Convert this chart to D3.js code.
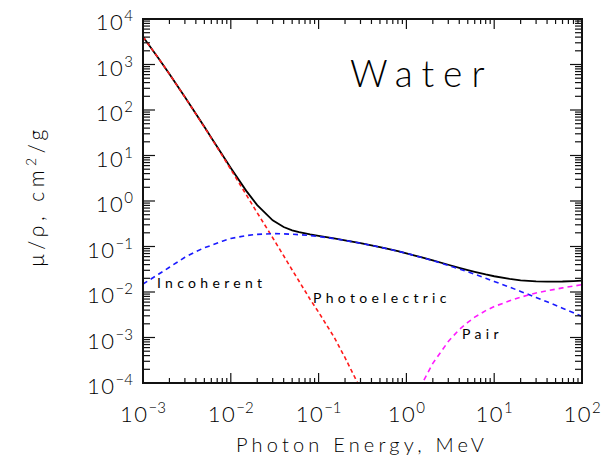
<!DOCTYPE html>
<html>
<head>
<meta charset="utf-8">
<script src="https://cdn.jsdelivr.net/npm/d3@7"></script>
<style>
  body { margin: 0; background: #fff; }
  svg text { font-family: "Lato", "DejaVu Sans", sans-serif; font-weight: 300; fill: #000; }
  svg text.curve-label { font-weight: 400; }
</style>
</head>
<body>
<div id="chart"></div>
<script>
const width = 605, height = 459;
const margin = {left: 143, right: 23, top: 19, bottom: 76};

// photon energies, MeV
const energy = [0.001, 0.0015, 0.002, 0.003, 0.004, 0.005, 0.006, 0.008,
    0.01, 0.015, 0.02, 0.03, 0.04, 0.05, 0.06, 0.08,
    0.1, 0.15, 0.2, 0.3, 0.4, 0.5, 0.6, 0.8,
    1, 1.25, 1.5, 2, 3, 4, 5, 6, 8,
    10, 15, 20, 30, 40, 50, 60, 80, 100];

// total attenuation, cm2/g
const total = [4078, 1376, 617, 193, 82.8, 42.6, 24.6, 10.4,
    5.33, 1.67, 0.810, 0.376, 0.268, 0.227, 0.206, 0.184,
    0.171, 0.151, 0.137, 0.119, 0.106, 0.0969, 0.0896, 0.0787,
    0.0707, 0.0632, 0.0575, 0.0494, 0.0397, 0.0340, 0.0303, 0.0277, 0.0243,
    0.0222, 0.0194, 0.0181, 0.0171, 0.0169, 0.0169, 0.0170, 0.0174, 0.0177];

const incoherent = [0.0150, 0.0245, 0.035, 0.058, 0.077, 0.094, 0.106, 0.131,
    0.150, 0.174, 0.185, 0.192, 0.190, 0.186, 0.182, 0.174,
    0.166, 0.149, 0.136, 0.118, 0.106, 0.0967, 0.0895, 0.0786,
    0.0707, 0.0630, 0.0575, 0.0490, 0.0385, 0.0321, 0.0277, 0.0245, 0.0200,
    0.0171, 0.0128, 0.0103, 0.0076, 0.0061, 0.0051, 0.0044, 0.0035, 0.0029];

const photoEnergy = [0.001, 0.0015, 0.002, 0.003, 0.004, 0.005, 0.006, 0.008,
    0.01, 0.015, 0.02, 0.03, 0.04, 0.05, 0.06, 0.08,
    0.1, 0.15, 0.2, 0.3, 0.4];
const photoelectric = [4065, 1372, 615, 192, 81.9, 41.9, 24.1, 9.92,
    4.94, 1.37, 0.550, 0.156, 0.0625, 0.0305, 0.0172, 0.0069,
    0.0036, 0.00102, 0.00036, 0.000075, 0.000026];

const pairEnergy = [1.25, 1.5, 2, 3, 4, 5, 6, 8, 10, 15, 20, 30, 40, 50, 60, 80, 100];
const pair = [0.00002, 0.000095, 0.00027, 0.00082, 0.0015, 0.00215, 0.0028, 0.0039,
    0.0048, 0.0064, 0.0077, 0.0095, 0.0106, 0.0115, 0.0123, 0.0135, 0.0145];

const xTickLabels = ["-3", "-2", "-1", "0", "1", "2"];
const yTickLabels = ["-4", "-3", "-2", "-1", "0", "1", "2", "3", "4"];

const series = [
    {name: "total", xs: energy, ys: total, color: "#000", dash: null},
    {name: "photo", xs: photoEnergy, ys: photoelectric, color: "#ff1a1a", dash: "4,3"},
    {name: "incoh", xs: energy, ys: incoherent, color: "#1a1aff", dash: "5,4"},
    {name: "pair", xs: pairEnergy, ys: pair, color: "#ff1aff", dash: "5,4"}
];

const labels = [
    {text: "Incoherent", x: 157, y: 288},
    {text: "Photoelectric", x: 313, y: 303},
    {text: "Pair", x: 462, y: 339}
];

const svg = d3.select("#chart").append("svg")
    .attr("width", width).attr("height", height);

const x = d3.scaleLog().domain([1e-3, 1e2]).range([margin.left, width - margin.right]);
const y = d3.scaleLog().domain([1e-4, 1e4]).range([height - margin.bottom, margin.top]);

const x0 = x.range()[0], x1 = x.range()[1];
const y0 = y.range()[0], y1 = y.range()[1];

svg.append("clipPath").attr("id", "clip")
  .append("rect").attr("x", x0).attr("y", y1).attr("width", x1 - x0).attr("height", y0 - y1);

const line = d3.line().x(d => x(d[0])).y(d => y(d[1]));

const plot = svg.append("g").attr("clip-path", "url(#clip)");
series.forEach(s => {
    plot.append("path")
        .attr("d", line(s.xs.map((e, i) => [e, s.ys[i]])))
        .attr("fill", "none")
        .attr("stroke", s.color)
        .attr("stroke-width", s.dash ? 1.6 : 1.8)
        .attr("stroke-dasharray", s.dash);
});

// ticks on all four sides, pointing in
const isMajor = v => Math.abs(Math.log10(v) - Math.round(Math.log10(v))) < 1e-6;
const ticks = svg.append("g").attr("stroke", "#111").attr("stroke-width", 1.2);
x.ticks().forEach(v => {
    const len = isMajor(v) ? 10 : 5;
    const px = x(v);
    ticks.append("line").attr("x1", px).attr("x2", px).attr("y1", y0).attr("y2", y0 - len);
    ticks.append("line").attr("x1", px).attr("x2", px).attr("y1", y1).attr("y2", y1 + len);
});
y.ticks().forEach(v => {
    const len = isMajor(v) ? 12 : 7;
    const py = y(v);
    ticks.append("line").attr("y1", py).attr("y2", py).attr("x1", x0).attr("x2", x0 + len);
    ticks.append("line").attr("y1", py).attr("y2", py).attr("x1", x1).attr("x2", x1 - len);
});

svg.append("rect")
    .attr("x", x0).attr("y", y1).attr("width", x1 - x0).attr("height", y0 - y1)
    .attr("fill", "none").attr("stroke", "#111").attr("stroke-width", 2);

function powerLabel(g, exp) {
    g.append("tspan").text("10").attr("font-size", 22).attr("letter-spacing", 1.5);
    g.append("tspan").text(exp.replace("-", "\u2212")).attr("font-size", 15).attr("dy", -9);
}

xTickLabels.forEach(e => {
    const t = svg.append("text")
        .attr("x", x(Math.pow(10, +e)))
        .attr("y", 422)
        .attr("text-anchor", "middle");
    powerLabel(t, e);
});

yTickLabels.forEach(e => {
    const t = svg.append("text")
        .attr("x", 133)
        .attr("y", y(Math.pow(10, +e)) + 11)
        .attr("text-anchor", "end");
    powerLabel(t, e);
});

svg.append("text")
    .attr("x", 362).attr("y", 452)
    .attr("text-anchor", "middle")
    .attr("font-size", 20).attr("letter-spacing", 4.2)
    .text("Photon Energy, MeV");

const yt = svg.append("text")
    .attr("transform", "translate(44,196) rotate(-90)")
    .attr("text-anchor", "middle")
    .attr("font-size", 21).attr("letter-spacing", 4.5);
yt.append("tspan").text("\u03bc/\u03c1,  cm");
yt.append("tspan").text("2").attr("font-size", 14).attr("dy", -8);
yt.append("tspan").text("/g").attr("dy", 8);

svg.append("text")
    .attr("x", 350).attr("y", 87)
    .attr("font-size", 37).attr("letter-spacing", 9)
    .text("Water");

labels.forEach(l => {
    svg.append("text")
        .attr("class", "curve-label")
        .attr("x", l.x).attr("y", l.y)
        .attr("font-size", 14).attr("letter-spacing", 4.3)
        .text(l.text);
});
</script>
</body>
</html>
